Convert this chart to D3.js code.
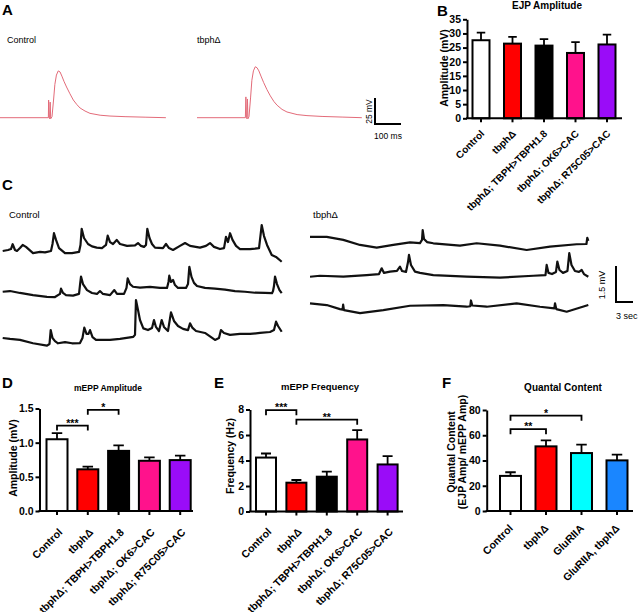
<!DOCTYPE html>
<html>
<head>
<meta charset="utf-8">
<script src="https://cdn.jsdelivr.net/npm/d3@7"></script>
<style>
  body { margin: 0; background: #fff; }
  svg { display: block; font-family: "Liberation Sans", Arial, sans-serif; }
</style>
</head>
<body>
<div id="chart"></div>
<script>
// ---------- data ----------
const groupsB = ["Control", "tbphΔ", "tbphΔ; TBPH>TBPH1.8", "tbphΔ; OK6>CAC", "tbphΔ; R75C05>CAC"];
const ejpAmp = [27.6, 26.4, 25.7, 23.1, 26.1];
const ejpSem = [2.7, 2.4, 2.3, 3.8, 3.5];

const meppAmp = [1.05, 0.61, 0.88, 0.735, 0.745];
const meppAmpSem = [0.09, 0.04, 0.08, 0.05, 0.065];
const meppFreq = [4.23, 2.26, 2.73, 5.65, 3.69];
const meppFreqSem = [0.32, 0.21, 0.39, 0.73, 0.65];

const groupsF = ["Control", "tbphΔ", "GluRIIA", "GluRIIA, tbphΔ"];
const quantal = [27.8, 51.2, 45.9, 40.1];
const quantalSem = [2.9, 4.8, 6.6, 4.5];

// significance brackets: [from, to, height, stars]
const ampSig = [["Control", "tbphΔ", 1.25, "***"], ["tbphΔ", "tbphΔ; TBPH>TBPH1.8", 1.48, "*"]];
const freqSig = [["Control", "tbphΔ", 7.95, "***"], ["tbphΔ", "tbphΔ; OK6>CAC", 7.2, "**"]];
const qcSig = [["Control", "tbphΔ", 64.8, "**"], ["Control", "GluRIIA", 75.5, "*"]];

// EJP traces, [ms, mV]
const ejpControl = [[0,0],[186,0],[187,17],[189,0],[191,-1],[193,15],[195,-1],[200,1],[206,17],[211,32],[217,41],[224,45],[231,44],[238,40],[246,35],[256,29.5],[269,23],[282,17],[296,12.5],[308,9.3],[327,6.4],[346,4.2],[385,2.4],[423,1.6],[481,1],[558,0.5],[638,0]];
const ejpTbph = [[0,0],[186,0],[188,20],[190,0],[192,-1],[194,18],[196,-1],[200,1],[206,19],[211,36],[217,45],[224,49],[231,48],[238,45],[246,40],[256,34],[269,27],[282,21],[296,15.5],[308,12],[327,8],[346,5.5],[385,3],[423,2],[481,1.2],[558,0.6],[634,0]];

// mEPP traces, [s, mV]
const ctrlRow1 = [[0,-0.04],[0.94,0],[1.46,0.04],[1.76,0.24],[2.17,0],[2.52,-0.04],[3.05,0.08],[3.53,0.21],[4.11,0.13],[5.35,-0.13],[6.58,-0.08],[7.47,-0.1],[8.52,-0.04],[8.79,0.25],[9.05,0.7],[9.41,0.42],[9.94,0.08],[11.0,-0.13],[12.23,-0.13],[13.47,-0.08],[13.73,0.21],[13.94,0.88],[14.35,0.5],[15.06,0.25],[15.76,0.15],[16.59,0.1],[17.52,0.08],[18.23,0.21],[18.53,0.6],[18.94,0.33],[19.47,0.25],[20.12,0.42],[20.7,0.25],[21.94,0.17],[23.35,0.19],[23.88,0.29],[24.41,0.17],[24.94,0.13],[25.29,0.21],[25.52,0.88],[25.91,0.5],[26.35,0.25],[26.88,0.1],[28.29,0.08],[28.82,0.25],[29.35,0.08],[30.06,0],[31.29,0.17],[32.18,0.29],[33.06,0.17],[34.82,0.1],[35.88,0.17],[36.59,0.29],[37.29,0.13],[38.35,0.04],[39.06,0.08],[39.41,0.55],[39.76,0.33],[40.12,0.7],[40.56,0.42],[41.18,0.17],[41.88,0.04],[43.65,0.04],[44.53,0.06],[45.24,0.08],[45.71,1.04],[46.12,0.58],[46.65,0.21],[47.48,-0.21],[48.24,-0.29],[49.24,-0.49]];
const ctrlRow2 = [[0,0.01],[1.29,0.04],[3.05,-0.04],[5.35,-0.13],[7.82,-0.2],[9.23,-0.21],[10.11,-0.08],[10.29,0.14],[10.64,-0.04],[11.17,-0.13],[12.41,-0.15],[13.47,-0.08],[13.64,0.29],[13.82,0.64],[14.17,0.33],[14.88,0.08],[15.76,-0.04],[16.64,-0.08],[17.17,0.04],[17.7,-0.08],[18.94,-0.13],[19.7,0.08],[20.17,-0.08],[21.41,-0.08],[21.85,0.17],[22.06,0.57],[22.47,0.33],[23.0,0.22],[24.23,0.18],[26.0,0.21],[27.76,0.17],[29.0,0.17],[29.26,0.42],[29.4,0.68],[29.7,0.42],[30.06,0.5],[30.41,0.29],[30.94,0.17],[32.35,0.17],[32.7,0.33],[32.94,1.05],[33.32,0.63],[33.76,0.38],[34.29,0.25],[35.7,0.17],[37.47,0.14],[39.24,0.1],[41.0,0.04],[42.76,0.01],[44.53,-0.03],[46.29,-0.04],[47.53,-0.05],[47.71,0.04],[47.88,0.25],[48.06,0.64],[48.41,0.33],[48.85,0.08],[49.24,-0.05]];
const ctrlRow3 = [[0,0],[1.29,-0.04],[3.05,-0.08],[5.35,-0.22],[7.82,-0.32],[8.26,-0.25],[8.47,0.33],[8.79,0],[9.23,-0.13],[9.76,-0.22],[11.0,-0.17],[12.23,-0.22],[13.64,-0.21],[14.08,0],[14.4,0.43],[14.79,0.17],[15.14,0.17],[15.41,0.33],[15.85,0.04],[16.47,-0.08],[17.17,-0.08],[18.94,-0.08],[20.7,-0.04],[23.05,0.05],[23.35,0.13],[23.52,1.58],[23.88,1.17],[24.23,0.75],[24.82,0.4],[25.64,0.33],[26.35,0.42],[26.7,0.75],[27.05,0.46],[27.58,0.29],[28.06,0.75],[28.46,0.46],[29.17,0.29],[29.7,1.07],[30.23,0.71],[30.94,0.5],[31.82,0.38],[32.7,0.33],[33.06,0.61],[33.5,0.42],[34.12,0.29],[35.7,0.21],[37.47,-0.08],[38.17,0],[38.52,0.33],[39.06,0.21],[40.12,0.13],[41.88,0.17],[43.65,0.17],[45.41,0.21],[47.18,0.25],[47.88,0.33],[48.24,0.68],[48.59,0.5],[49.24,0.26]];
const tbphRow1 = [[0,0.3],[2.95,0.3],[5.88,0.17],[8.83,-0.04],[11.77,-0.15],[14.7,-0.04],[17.65,0.07],[19.41,0.04],[19.77,0.17],[19.89,0.58],[20.12,0.21],[20.65,0.08],[21.76,0.03],[26.47,-0.07],[29.41,0.03],[33.53,-0.07],[38.24,-0.25],[42.35,-0.11],[47.06,-0.01],[48.79,0],[48.94,0.26],[49.12,0.13]];
const tbphRow2 = [[0,-0.03],[1.76,0.01],[5.88,-0.03],[10.0,0.04],[12.18,0.08],[12.65,0.32],[13.06,0.13],[14.12,0.18],[15.35,0.21],[15.88,0.39],[16.24,0.21],[16.94,0.17],[17.3,0.58],[17.47,0.88],[17.82,0.46],[18.53,0.18],[19.41,0.13],[21.76,0.04],[27.65,-0.03],[33.53,-0.07],[39.41,0.01],[41.56,0.04],[41.77,0.46],[42.09,0.13],[42.71,0.08],[43.41,0.17],[43.65,0.6],[44.03,0.25],[44.65,0.13],[45.44,0.21],[45.76,0.95],[46.15,0.46],[46.76,0.21],[47.47,0.17],[47.95,0.25],[48.35,0.08],[49.12,-0.03]];
const tbphRow3 = [[0,0.11],[2.95,0.04],[5.29,-0.13],[5.75,-0.15],[5.85,0.06],[5.99,-0.17],[8.83,-0.3],[12.94,-0.17],[17.65,0.01],[23.53,0.04],[27.65,-0.03],[28.29,-0.01],[28.41,0.23],[28.64,0.02],[31.18,-0.03],[36.47,0.11],[40.59,-0.03],[43.12,-0.1],[43.24,0.11],[43.47,-0.13],[45.3,-0.24],[49.12,0.04]];

// ---------- styles ----------
const colors5 = ["#ffffff", "#ff0000", "#000000", "#ff128c", "#9a0cf8"];
const colors4 = ["#ffffff", "#ff0000", "#00ffff", "#1a86ff"];
const ejpColor = "#e36b79";

const width = 640, height = 612;

const svg = d3.select("#chart")
    .append("svg")
    .attr("width", width)
    .attr("height", height)
    .attr("viewBox", [0, 0, width, height]);

// panel letters
const letters = [["A", 2, 15], ["B", 437, 16], ["C", 2, 190], ["D", 2, 388], ["E", 214, 388], ["F", 442, 388]];
svg.selectAll(".letter")
    .data(letters)
    .join("text")
    .attr("class", "letter")
    .attr("x", d => d[1])
    .attr("y", d => d[2])
    .attr("font-size", 15)
    .attr("font-weight", "bold")
    .text(d => d[0]);

function plainText(str, x, y, size, opts = {}) {
    return svg.append("text")
        .attr("x", x).attr("y", y)
        .attr("font-size", size)
        .attr("font-weight", opts.bold ? "bold" : "normal")
        .attr("text-anchor", opts.anchor || "start")
        .attr("transform", opts.rotate ? `rotate(${opts.rotate},${x},${y})` : null)
        .text(str);
}

// ---------- panel A: EJP traces ----------
const yA = d3.scaleLinear().domain([0, 25]).range([117.7, 91.7]);
const xA1 = d3.scaleLinear().domain([0, 100]).range([0, 26]);
const xA2 = d3.scaleLinear().domain([0, 100]).range([197, 223]);

[[ejpControl, xA1], [ejpTbph, xA2]].forEach(([tr, xs]) => {
    svg.append("path")
        .datum(tr)
        .attr("fill", "none")
        .attr("stroke", ejpColor)
        .attr("stroke-width", 1)
        .attr("d", d3.line().x(d => xs(d[0])).y(d => yA(d[1])));
});
plainText("Control", 7, 43, 9);
plainText("tbphΔ", 197, 43, 9);

// scale bar 25 mV / 100 ms
const sbA = {x: 375, y: 124};
svg.append("path")
    .attr("fill", "none").attr("stroke", "#000").attr("stroke-width", 2)
    .attr("d", `M${sbA.x},${sbA.y - (yA(0) - yA(25))}V${sbA.y}h${xA1(100) - xA1(0)}`);
plainText("25 mV", 372, 111.5, 8.5, {anchor: "middle", rotate: -90});
plainText("100 ms", 388, 139, 8.5, {anchor: "middle"});

// ---------- panel C: mEPP traces ----------
const xC1 = d3.scaleLinear().domain([0, 49.24]).range([2.7, 281.7]);
const xC2 = d3.scaleLinear().domain([0, 49.24]).range([310, 589]);
const pxPerMv = 24;
const rows = [
    [ctrlRow1, xC1, 250], [ctrlRow2, xC1, 292], [ctrlRow3, xC1, 338],
    [tbphRow1, xC2, 244], [tbphRow2, xC2, 276], [tbphRow3, xC2, 306]
];
rows.forEach(([tr, xs, ref]) => {
    const ys = d3.scaleLinear().domain([0, 1]).range([ref, ref - pxPerMv]);
    svg.append("path")
        .datum(tr)
        .attr("fill", "none")
        .attr("stroke", "#111")
        .attr("stroke-width", 2.2)
        .attr("stroke-linejoin", "round")
        .attr("d", d3.line().x(d => xs(d[0])).y(d => ys(d[1])));
});
plainText("Control", 9, 218, 9.5);
plainText("tbphΔ", 313, 218, 9.5);

// scale bar 1.5 mV / 3 sec
const sbC = {x: 616, y: 302};
svg.append("path")
    .attr("fill", "none").attr("stroke", "#000").attr("stroke-width", 2)
    .attr("d", `M${sbC.x},${sbC.y - 1.5 * pxPerMv}V${sbC.y}h${xC1(3) - xC1(0)}`);
plainText("1.5 mV", 605, 285, 9, {anchor: "middle", rotate: -90});
plainText("3 sec", 616, 319, 9);

// ---------- bar panels ----------
function barPanel(o) {
    const g = svg.append("g");
    const n = o.groups.length;
    const pad = 1 - o.bw / o.step;
    const x = d3.scaleBand()
        .domain(o.groups)
        .range([o.c0 - o.step / 2, o.c0 - o.step / 2 + n * o.step])
        .paddingInner(pad)
        .paddingOuter(pad / 2);
    const y = d3.scaleLinear().domain([0, o.max]).range([o.y0, o.y1]);
    const cx = name => x(name) + x.bandwidth() / 2;

    // bars
    g.selectAll(".bar")
        .data(o.groups)
        .join("rect")
        .attr("class", "bar")
        .attr("x", d => x(d))
        .attr("width", x.bandwidth())
        .attr("y", (d, i) => y(o.mean[i]))
        .attr("height", (d, i) => y(0) - y(o.mean[i]))
        .attr("fill", (d, i) => o.colors[i])
        .attr("stroke", "#000")
        .attr("stroke-width", 2);

    // error bars (upper only)
    const capW = x.bandwidth() * 0.5;
    g.selectAll(".err")
        .data(o.groups)
        .join("path")
        .attr("class", "err")
        .attr("fill", "none")
        .attr("stroke", "#000")
        .attr("stroke-width", 1.8)
        .attr("d", (d, i) => {
            const top = y(o.mean[i] + o.sem[i]);
            return `M${cx(d)},${y(o.mean[i])}V${top}M${cx(d) - capW / 2},${top}H${cx(d) + capW / 2}`;
        });

    // y axis
    const yAxis = g.append("g")
        .attr("transform", `translate(${o.ax},0)`)
        .call(d3.axisLeft(y).tickValues(o.ticks).tickFormat(o.fmt).tickSize(4).tickSizeOuter(0).tickPadding(2));
    yAxis.select(".domain").attr("stroke-width", 2);
    yAxis.selectAll(".tick line").attr("stroke-width", 2);
    yAxis.selectAll(".tick text")
        .attr("font-size", o.tickSize)
        .attr("font-weight", "bold")
        .attr("font-family", "Liberation Sans, Arial, sans-serif")
        .attr("fill", "#000");

    // x axis
    g.append("line")
        .attr("x1", o.ax - 1).attr("x2", o.axEnd)
        .attr("y1", y(0)).attr("y2", y(0))
        .attr("stroke", "#000").attr("stroke-width", 2);
    const xAxis = g.append("g")
        .attr("transform", `translate(0,${y(0)})`)
        .call(d3.axisBottom(x).tickSize(4).tickSizeOuter(0));
    xAxis.select(".domain").remove();
    xAxis.selectAll(".tick line").attr("stroke-width", 2);
    xAxis.selectAll(".tick text")
        .attr("x", null).attr("y", null).attr("dy", null)
        .attr("text-anchor", "end")
        .attr("transform", `translate(${o.lblDx},${o.lblDy}) rotate(-45)`)
        .attr("font-size", o.lblSize)
        .attr("font-weight", "bold")
        .attr("font-family", "Liberation Sans, Arial, sans-serif")
        .attr("fill", "#000");

    // title
    g.append("text")
        .attr("x", o.title[1]).attr("y", o.title[2])
        .attr("text-anchor", "middle")
        .attr("font-size", o.title[3])
        .attr("font-weight", "bold")
        .text(o.title[0]);

    // y label
    o.ylabel.forEach(([str, lx]) => {
        g.append("text")
            .attr("transform", `translate(${lx},${o.ylabelY}) rotate(-90)`)
            .attr("text-anchor", "middle")
            .attr("font-size", o.ylabelSize)
            .attr("font-weight", "bold")
            .text(str);
    });

    // significance brackets
    const sig = g.selectAll(".sig")
        .data(o.sig)
        .join("g")
        .attr("class", "sig");
    sig.append("path")
        .attr("fill", "none")
        .attr("stroke", "#000")
        .attr("stroke-width", 1.8)
        .attr("d", d => `M${cx(d[0])},${y(d[2]) + 5}V${y(d[2])}H${cx(d[1])}V${y(d[2]) + 5}`);
    sig.append("text")
        .attr("x", d => (cx(d[0]) + cx(d[1])) / 2)
        .attr("y", d => y(d[2]) + 1)
        .attr("text-anchor", "middle")
        .attr("font-size", 10.5)
        .attr("font-weight", "bold")
        .text(d => d[3]);
}

barPanel({
    groups: groupsB, mean: ejpAmp, sem: ejpSem, colors: colors5,
    ax: 467, axEnd: 622, y0: 118.3, y1: 19.3, max: 35,
    ticks: d3.range(0, 36, 5), fmt: d3.format("d"), tickSize: 10.5,
    c0: 481, step: 31.5, bw: 17,
    lblDx: 4, lblDy: 16, lblSize: 10,
    title: ["EJP Amplitude", 547, 9, 10],
    ylabel: [["Amplitude (mV)", 448]], ylabelY: 68, ylabelSize: 10.5,
    sig: []
});

barPanel({
    groups: groupsB, mean: meppAmp, sem: meppAmpSem, colors: colors5,
    ax: 39.5, axEnd: 193, y0: 511, y1: 408.5, max: 1.5,
    ticks: [0, 0.5, 1, 1.5], fmt: d3.format(".1f"), tickSize: 10.5,
    c0: 57, step: 30.8, bw: 21,
    lblDx: 6, lblDy: 22, lblSize: 10.5,
    title: ["mEPP Amplitude", 108, 391, 8.5],
    ylabel: [["Amplitude (mV)", 17]], ylabelY: 458, ylabelSize: 10.5,
    sig: ampSig
});

barPanel({
    groups: groupsB, mean: meppFreq, sem: meppFreqSem, colors: colors5,
    ax: 250, axEnd: 403, y0: 511.5, y1: 409.5, max: 8,
    ticks: [0, 2, 4, 6, 8], fmt: d3.format("d"), tickSize: 10.5,
    c0: 266, step: 30.4, bw: 20,
    lblDx: 6, lblDy: 21, lblSize: 10.5,
    title: ["mEPP Frequency", 320, 390, 9.5],
    ylabel: [["Frequency (Hz)", 234]], ylabelY: 456, ylabelSize: 10.5,
    sig: freqSig
});

barPanel({
    groups: groupsF, mean: quantal, sem: quantalSem, colors: colors4,
    ax: 486.7, axEnd: 633, y0: 511, y1: 410, max: 80,
    ticks: [0, 20, 40, 60, 80], fmt: d3.format("d"), tickSize: 10.5,
    c0: 510.5, step: 35.5, bw: 21,
    lblDx: 3, lblDy: 18, lblSize: 10.5,
    title: ["Quantal Content", 563, 391, 10],
    ylabel: [["Quantal Content", 455], ["(EJP Amp/ mEPP Amp)", 466]], ylabelY: 452, ylabelSize: 10.5,
    sig: qcSig
});
</script>
</body>
</html>
